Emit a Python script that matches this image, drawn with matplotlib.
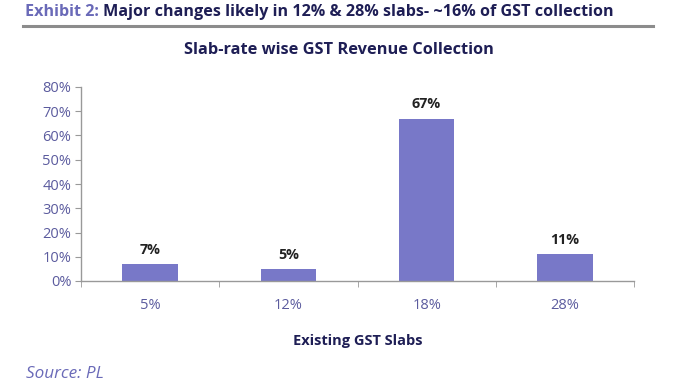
import numpy as np
import matplotlib.pyplot as plt
from matplotlib.ticker import FixedLocator, PercentFormatter

plt.rcParams['font.family'] = ['Open Sans', 'DejaVu Sans']

# data
slabs = ["5%", "12%", "18%", "28%"]
share = [7, 5, 67, 11]
yticks = [0, 10, 20, 30, 40, 50, 60, 70, 80]

bar_col = "#7878c8"
tick_col = "#5b5b9e"
navy = "#1e1e55"

fig = plt.figure(figsize=(6.86, 3.87), dpi=100)
ax = fig.add_axes([81 / 686, 1 - 281 / 387, 553 / 686, 194 / 387])

x = np.arange(len(slabs))
bars = ax.bar(x, share, width=0.4, color=bar_col)
for b, v in zip(bars, share):
    ax.text(b.get_x() + b.get_width() / 2, v + 3.0, "%d%%" % v, ha="center", va="bottom",
            fontsize=10.3, fontweight="bold", color="#222222")

ax.set_xlim(-0.5, len(slabs) - 0.5)
ax.set_ylim(0, 80)
ax.set_yticks(yticks)
ax.yaxis.set_major_formatter(PercentFormatter(decimals=0))
ax.set_xticks(x)
ax.set_xticklabels(slabs)
ax.xaxis.set_minor_locator(FixedLocator(np.arange(-0.5, len(slabs), 1.0)))
ax.tick_params(axis="x", which="major", length=0, pad=12, labelsize=10.5, labelcolor=tick_col)
ax.tick_params(axis="x", which="minor", length=4, color="#999999")
ax.tick_params(axis="y", length=4, color="#999999", labelsize=10.5, labelcolor=tick_col, pad=3)

for s in ["top", "right"]:
    ax.spines[s].set_visible(False)
for s in ["left", "bottom"]:
    ax.spines[s].set_color("#999999")
    ax.spines[s].set_linewidth(1.0)

ax.set_xlabel("Existing GST Slabs", fontsize=10.5, fontweight="bold", color=navy, labelpad=15)

fig.text(339 / 686, 1 - 50 / 387, "Slab-rate wise GST Revenue Collection", ha="center", va="center",
         fontsize=11.8, fontweight="bold", color=navy)

# header
t1 = fig.text(25 / 686, 1 - 12 / 387, "Exhibit 2: ", ha="left", va="center",
              fontsize=11.6, fontweight="bold", color="#6a6ab8")
fig.canvas.draw()
bb = t1.get_window_extent()
fig.text(bb.x1 / 686, 1 - 12 / 387, "Major changes likely in 12% & 28% slabs- ~16% of GST collection",
         ha="left", va="center", fontsize=11.6, fontweight="bold", color=navy)
fig.add_artist(plt.Line2D([23 / 686, 653 / 686], [1 - 26 / 387, 1 - 26 / 387],
                          color="#8c8c8c", linewidth=2.2))

fig.text(26 / 686, 1 - 374 / 387, "Source: PL", ha="left", va="center",
         fontsize=12.3, style="italic", color="#6a6ab8")

fig.savefig("out.png", dpi=100)
